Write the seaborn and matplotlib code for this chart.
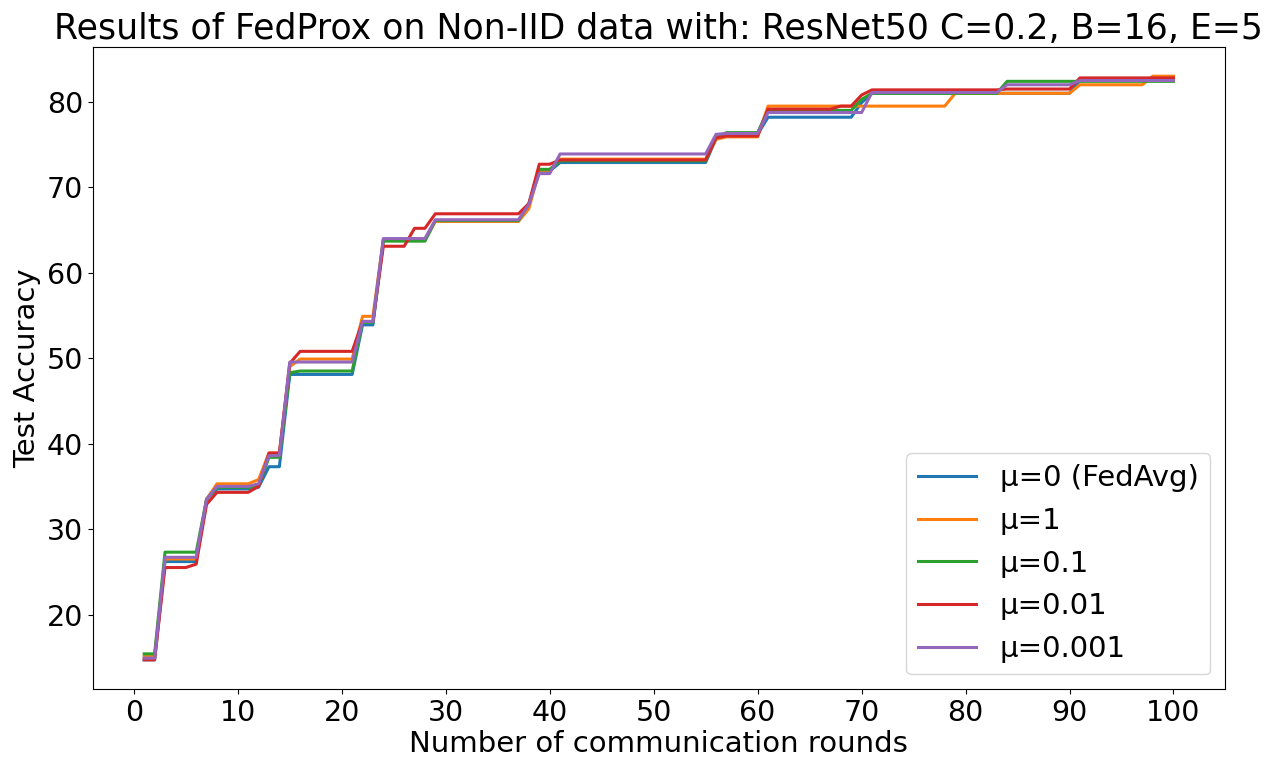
import pandas as pd
import matplotlib
matplotlib.use("Agg")
import matplotlib.pyplot as plt
import seaborn as sns

# best test accuracy per communication round
rounds = list(range(1, 101))

acc_mu0 = ([14.7] * 2 + [26.2] * 4 + [33.5] + [34.7] * 4 + [34.9] + [37.3] * 2
           + [48.1] * 7 + [53.9] * 2 + [63.8] * 5 + [66.1] * 9 + [68.0]
           + [71.9] * 2 + [72.9] * 15 + [75.7] + [76.2] * 4 + [78.2] * 9
           + [79.9] + [81.0] * 20 + [82.5] * 10)

acc_mu1 = ([15.1] * 2 + [26.5] * 4 + [33.5] + [35.3] * 4 + [35.8] + [38.9] * 2
           + [49.0] + [49.9] * 6 + [54.9] * 2 + [63.9] * 5 + [66.0] * 9
           + [67.5] + [72.0] * 2 + [73.3] * 15 + [75.6] + [75.9] * 4
           + [79.5] * 18 + [81.0] * 12 + [82.0] * 7 + [83.0] * 3)

acc_mu01 = ([15.4] * 2 + [27.3] * 4 + [33.5] + [34.9] * 4 + [35.0] + [38.4] * 2
            + [48.3] + [48.5] * 6 + [54.2] * 2 + [63.7] * 5 + [66.1] * 9
            + [68.1] + [72.1] * 2 + [73.1] * 15 + [75.8] + [76.4] * 4
            + [79.0] * 9 + [80.3] + [81.0] * 13 + [82.4] * 17)

acc_mu001 = ([14.7] * 2 + [25.5] * 3 + [25.9] + [32.9] + [34.3] * 4 + [35.0]
             + [38.9] * 2 + [49.4] + [50.8] * 6 + [54.3] * 2 + [63.1] * 3
             + [65.2] * 2 + [66.9] * 9 + [68.1] + [72.7] * 2 + [73.2] * 15
             + [75.8] + [76.0] * 4 + [79.15] * 7 + [79.5] * 2 + [80.8]
             + [81.4] * 13 + [81.5] * 7 + [82.8] * 10)

acc_mu0001 = ([14.9] * 2 + [26.7] * 4 + [33.5] + [35.0] * 4 + [35.3] + [38.6] * 2
              + [49.55] * 7 + [54.3] * 2 + [64.0] * 5 + [66.2] * 9 + [68.0]
              + [71.6] * 2 + [73.9] * 15 + [76.2] + [76.3] * 4 + [78.75] * 10
              + [81.1] * 13 + [82.0] * 7 + [82.5] * 10)

labels = ["μ=0 (FedAvg)", "μ=1", "μ=0.1", "μ=0.01", "μ=0.001"]
series = [acc_mu0, acc_mu1, acc_mu01, acc_mu001, acc_mu0001]

frames = []
for label, acc in zip(labels, series):
    frames.append(pd.DataFrame({"round": rounds, "acc": acc, "mu": label}))
df = pd.concat(frames, ignore_index=True)

plt.rcParams["font.family"] = ["DejaVu Sans"]
plt.rcParams["font.size"] = 21

fig, ax = plt.subplots(figsize=(12.74, 7.61), dpi=100)
fig.subplots_adjust(left=0.0728, right=0.9615, bottom=0.0946, top=0.9382)

sns.lineplot(data=df, x="round", y="acc", hue="mu", hue_order=labels,
             palette="tab10", linewidth=2.2, ax=ax)

ax.set_xticks(range(0, 101, 10))
ax.tick_params(labelsize=20.5)
ax.set_xlabel("Number of communication rounds", fontsize=21, labelpad=2)
ax.set_ylabel("Test Accuracy", fontsize=21)
ax.set_title("Results of FedProx on Non-IID data with: ResNet50 C=0.2, B=16, E=5",
             fontsize=25)

handles, names = ax.get_legend_handles_labels()
ax.legend(handles, names, loc="lower right", fontsize=21)

plt.savefig("out.png", dpi=100)
plt.close()
